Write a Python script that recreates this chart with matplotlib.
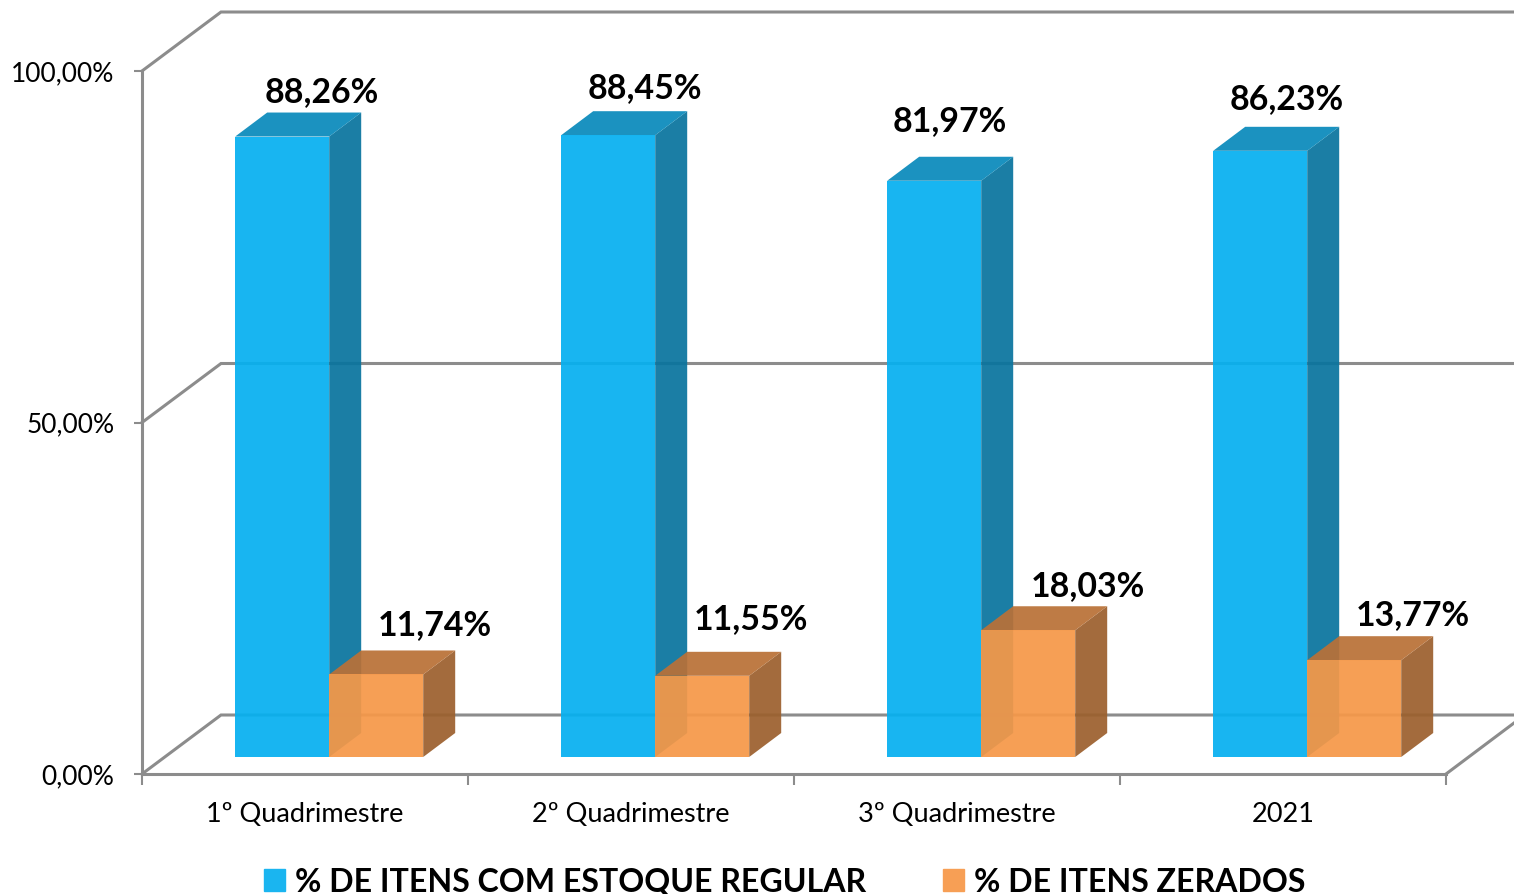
# -*- coding: utf-8 -*-
import matplotlib
matplotlib.use('Agg')
import matplotlib.pyplot as plt
from matplotlib.patches import Polygon, Patch

plt.rcParams['font.family'] = ['Lato', 'DejaVu Sans']

categories = ['1º Quadrimestre', '2º Quadrimestre', '3º Quadrimestre', '2021']
regular = [88.26, 88.45, 81.97, 86.23]
zerados = [11.74, 11.55, 18.03, 13.77]
y_ticks = [0, 50, 100]
y_tick_labels = ['0,00%', '50,00%', '100,00%']
legend_labels = ['% DE ITENS COM ESTOQUE REGULAR', '% DE ITENS ZERADOS']

# label nudges in pixels, the source chart had them placed by hand
regular_nudge = [(87, 44), (84, 47), (63, 60), (73, 52)]
zerados_nudge = [(106, 49), (96, 57), (107, 44), (106, 45)]

W, H = 1514, 894
fig = plt.figure(figsize=(W / 100, H / 100), dpi=100)
ax = fig.add_axes([142 / W, (H - 774) / H, (1446 - 142) / W, (774 - 71) / H])
ax.set_xlim(0, len(categories))
ax.set_ylim(0, 100)

px_x = len(categories) / (1446 - 142)
px_y = 100 / (774 - 71)

GRID = '#8c8c8c'
wall_dx, wall_dy = 79 * px_x, 59 * px_y

# back wall and side wall lines
for t in y_ticks:
    ax.plot([0, wall_dx, 1372 * px_x], [t, t + wall_dy, t + wall_dy], color=GRID, lw=2.2,
            clip_on=False, zorder=1, solid_joinstyle='miter')
ax.plot([4, 4 + 68 * px_x], [0, 51 * px_y], color=GRID, lw=2.2, clip_on=False, zorder=1)

bar_w = 94 * px_x
depth_x, depth_y = 32 * px_x, 24 * px_y
base = 17 * px_y
start = 93.2 * px_x


def bar3d(x, h, front, top, side, z):
    y0 = base
    y1 = base + h
    pts_side = [(x + bar_w, y0), (x + bar_w + depth_x, y0 + depth_y),
                (x + bar_w + depth_x, y1 + depth_y), (x + bar_w, y1)]
    pts_top = [(x, y1), (x + depth_x, y1 + depth_y),
               (x + bar_w + depth_x, y1 + depth_y), (x + bar_w, y1)]
    pts_front = [(x, y0), (x + bar_w, y0), (x + bar_w, y1), (x, y1)]
    for pts, c in [(pts_side, side), (pts_top, top), (pts_front, front)]:
        ax.add_patch(Polygon(pts, closed=True, facecolor=c, edgecolor='none',
                             alpha=0.93, clip_on=False, zorder=z))


for i in range(len(categories)):
    x_blue = i + start
    x_orange = x_blue + bar_w
    bar3d(x_blue, regular[i], '#06B0F0', '#098ABB', '#09749E', 3 + i)
    bar3d(x_orange, zerados[i], '#F69848', '#B97137', '#9C602E', 3.5 + i)
    ax.annotate(('%.2f%%' % regular[i]).replace('.', ','),
                xy=(x_blue, base + regular[i]),
                xytext=(regular_nudge[i][0] * 0.72, regular_nudge[i][1] * 0.72),
                textcoords='offset points', ha='center', va='center',
                fontsize=24.4, fontweight='bold', color='black', zorder=20, annotation_clip=False)
    ax.annotate(('%.2f%%' % zerados[i]).replace('.', ','),
                xy=(x_orange, base + zerados[i]),
                xytext=(zerados_nudge[i][0] * 0.72, zerados_nudge[i][1] * 0.72),
                textcoords='offset points', ha='center', va='center',
                fontsize=24.4, fontweight='bold', color='black', zorder=20, annotation_clip=False)

for s in ['top', 'right']:
    ax.spines[s].set_visible(False)
for s in ['left', 'bottom']:
    ax.spines[s].set_color(GRID)
    ax.spines[s].set_linewidth(2.2)
    ax.spines[s].set_zorder(2)
ax.patch.set_visible(False)

ax.set_yticks(y_ticks)
ax.set_yticklabels(y_tick_labels, fontsize=19)
ax.set_xticks(range(len(categories) + 1))
ax.set_xticklabels([])
ax.set_xticks([i + 0.5 for i in range(len(categories))], minor=True)
ax.set_xticklabels(categories, minor=True, fontsize=19.5)
ax.tick_params(axis='y', length=6, width=1.5, color=GRID, pad=14)
ax.tick_params(axis='x', which='major', length=8, width=1.5, color=GRID)
ax.tick_params(axis='x', which='minor', length=0, pad=20)

handles = [Patch(color='#1AB5F0', label=legend_labels[0]), Patch(color='#F79F55', label=legend_labels[1])]
fig.legend(handles=handles, loc='center left', bbox_to_anchor=(264 / W, (H - 882) / H), ncol=2,
           frameon=False, prop={'size': 23.1, 'weight': 'bold'}, handlelength=0.66, handleheight=0.66,
           handletextpad=0.31, columnspacing=2.4, borderpad=0, borderaxespad=0)

fig.savefig('out.png', dpi=100)
